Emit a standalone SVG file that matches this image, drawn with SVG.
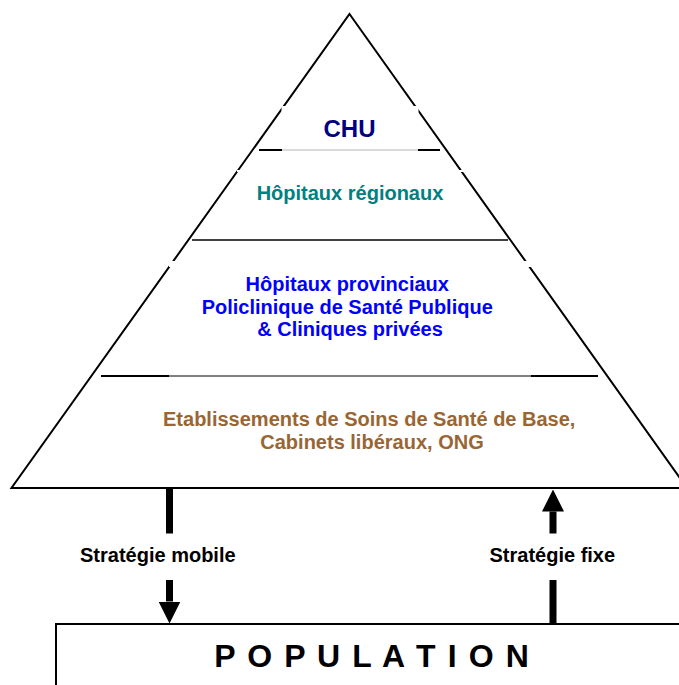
<svg xmlns="http://www.w3.org/2000/svg" width="679" height="685" viewBox="0 0 679 685">
  <style>
    .t { font-family: "Liberation Sans", Arial, sans-serif; font-weight: bold; }
    .mid { text-anchor: middle; }
    .edge { fill: none; stroke: #000; stroke-width: 2; stroke-linejoin: miter; }
    .div { stroke: #000; stroke-width: 1.5; }
    .divthick { stroke: #000; stroke-width: 2; }
    .divthin { stroke: #000; stroke-width: 1; }
    .mask { fill: #fff; stroke: none; }
    .shaft { stroke: #000; stroke-width: 7; fill: none; }
  </style>
  <defs>
    <marker id="head" markerUnits="userSpaceOnUse" markerWidth="22" markerHeight="22" refX="0" refY="11" orient="auto" viewBox="0 0 22 22">
      <path d="M0,0 L22,11 L0,22 Z" fill="#000"/>
    </marker>
  </defs>
  <rect width="679" height="685" fill="#fff"/>

  <g id="pyramid">
    <polygon class="edge" points="349.5,14 687,488 11.5,488"/>
    <rect class="mask" x="281.5" y="106" width="137" height="44"/>
    <rect class="mask" x="237" y="170" width="226" height="2"/>
    <rect class="mask" x="169" y="261" width="362" height="6"/>
    <line class="divthick" x1="259" y1="150" x2="282" y2="150"/>
    <line x1="282" y1="150" x2="418" y2="150" stroke="#b4b4b4" stroke-width="1"/>
    <line class="divthick" x1="418" y1="150" x2="440" y2="150"/>
    <line class="div" x1="192" y1="240" x2="508" y2="240"/>
    <line class="divthick" x1="101" y1="376" x2="169" y2="376"/>
    <line class="divthin" x1="169" y1="376" x2="531" y2="376"/>
    <line class="divthick" x1="531" y1="376" x2="598" y2="376"/>
  </g>

  <g id="level-chu">
    <text class="t mid" x="349.5" y="136.5" font-size="24" fill="#000080">CHU</text>
  </g>
  <g id="level-regional">
    <text class="t mid" x="350" y="200" font-size="20" fill="#008080">Hôpitaux régionaux</text>
  </g>
  <g id="level-provincial">
    <text class="t mid" font-size="20" fill="#0000FF">
      <tspan x="350" y="291">Hôpitaux provinciaux</tspan>
      <tspan x="350" y="313.5">Policlinique de Santé Publique</tspan>
      <tspan x="350" y="336">&amp; Cliniques privées</tspan>
    </text>
  </g>
  <g id="level-base">
    <text class="t mid" font-size="20" fill="#996633">
      <tspan x="372" y="425.5">Etablissements de Soins de Santé de Base,</tspan>
      <tspan x="372" y="449">Cabinets libéraux, ONG</tspan>
    </text>
  </g>

  <g id="population">
    <rect x="56" y="624" width="640" height="80" fill="#fff" stroke="#000" stroke-width="2"/>
    <text class="t" x="214.3" y="666.5" font-size="32" letter-spacing="1.6" fill="#000">P O P U L A T I O N</text>
  </g>

  <g id="connectors">
    <line class="shaft" x1="169.5" y1="488" x2="169.5" y2="533.5"/>
    <line class="shaft" x1="169.5" y1="580" x2="169.5" y2="601.5" marker-end="url(#head)"/>
    <line class="shaft" x1="553" y1="623" x2="553" y2="580"/>
    <line class="shaft" x1="553" y1="533.5" x2="553" y2="511.5" marker-end="url(#head)"/>
  </g>

  <g id="label-mobile">
    <text class="t" x="80" y="561.5" font-size="20" fill="#000">Stratégie mobile</text>
  </g>
  <g id="label-fixe">
    <text class="t" x="489.5" y="561.5" font-size="20" fill="#000">Stratégie fixe</text>
  </g>
</svg>
